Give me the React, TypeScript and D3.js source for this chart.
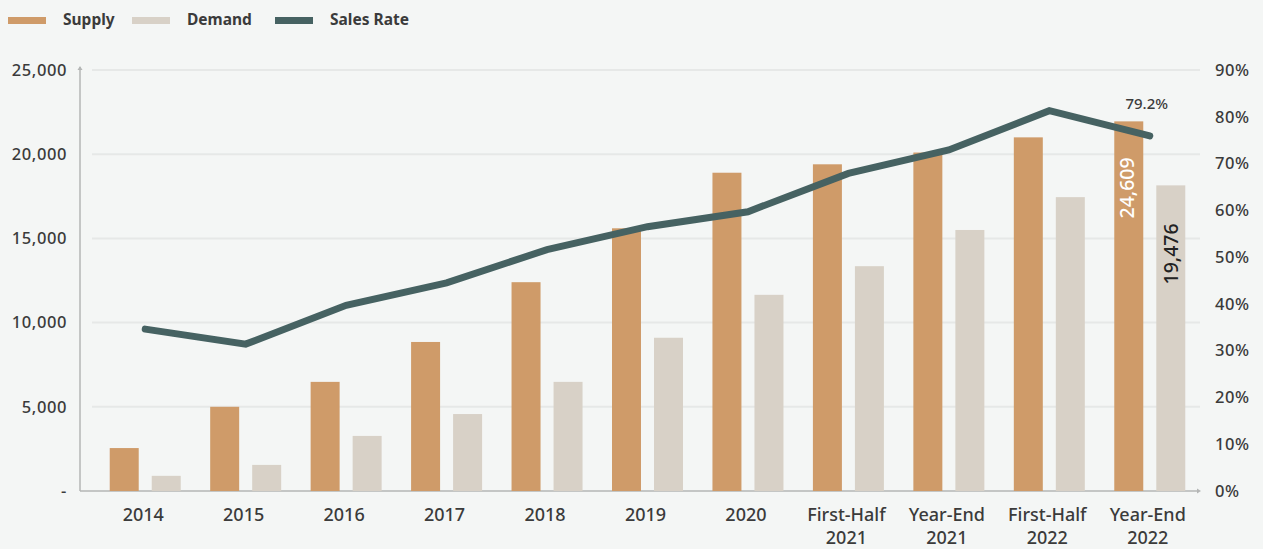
import React from 'react';
import * as d3 from 'd3';

const categories = ['2014', '2015', '2016', '2017', '2018', '2019', '2020', 'First-Half 2021', 'Year-End 2021', 'First-Half 2022', 'Year-End 2022'];
const supply = [2550, 5000, 6480, 8850, 12400, 15600, 18900, 19400, 20100, 21000, 21950];
const demand = [900, 1550, 3270, 4570, 6480, 9100, 11650, 13350, 15500, 17450, 18150];
const salesRate = [0.346, 0.314, 0.397, 0.445, 0.516, 0.565, 0.597, 0.679, 0.729, 0.813, 0.759];
const leftTicks = [0, 5000, 10000, 15000, 20000, 25000];
const rightTicks = [0, 0.1, 0.2, 0.3, 0.4, 0.5, 0.6, 0.7, 0.8, 0.9];
const seriesNames = ['Supply', 'Demand', 'Sales Rate'];
const supplyLastLabel = '24,609';
const demandLastLabel = '19,476';
const rateLastLabel = '79.2%';

const W = 1263;
const H = 549;
const BG = '#f4f6f5';
const SUPPLY = '#cf9b69';
const DEMAND = '#d8d1c7';
const LINE = '#466262';
const TEXT = '#3b3b3b';
const FONT = "'Noto Sans', sans-serif";

export default function App() {
  const top = 70;
  const bottom = 491;
  const x = d3.scaleBand<string>().domain(categories).range([95, 1200]).padding(0);
  const xs = d3.scaleBand<string>().domain(['supply', 'demand']).range([-35.5, 35.5]).paddingInner(0.31);
  const yL = d3.scaleLinear().domain([0, 25000]).range([bottom, top]);
  const yR = d3.scaleLinear().domain([0, 0.9]).range([bottom, top]);
  const cx = (c: string) => (x(c) as number) + x.bandwidth() / 2;

  const line = d3
    .line<number>()
    .x((_, i) => cx(categories[i]))
    .y((d) => yR(d));

  const fmt = d3.format(',');
  const last = categories.length - 1;
  const lastC = cx(categories[last]);
  const sx = lastC + (xs('supply') as number) + xs.bandwidth() / 2 - 2;
  const dx = lastC + (xs('demand') as number) + xs.bandwidth() / 2;

  const legendColors = [SUPPLY, DEMAND, LINE];
  const legendX = [8, 132, 275];

  return (
    <svg width={W} height={H} style={{ position: 'absolute', left: 0, top: 0, fontFamily: FONT }}>
      <rect x={0} y={0} width={W} height={H} fill={BG} />
      {/* legend */}
      {seriesNames.map((n, i) => (
        <g key={n}>
          <rect x={legendX[i]} y={17} width={38} height={7} fill={legendColors[i]} />
          <text x={legendX[i] + 55} y={25} fontSize={15.5} fontWeight={700} fill={TEXT}>
            {n}
          </text>
        </g>
      ))}
      {/* grid */}
      {leftTicks.filter((t) => t > 0).map((t) => (
        <line key={t} x1={92} x2={1200} y1={yL(t)} y2={yL(t)} stroke="#e6e8e7" strokeWidth={2} />
      ))}
      {/* axes */}
      <line x1={80} x2={80} y1={bottom} y2={67} stroke="#b4b6b5" strokeWidth={1.5} />
      <path d={`M77.5,70 L80,66 L82.5,70 Z`} fill="#b4b6b5" />
      <line x1={80} x2={1199} y1={bottom} y2={bottom} stroke="#b4b6b5" strokeWidth={1.5} />
      <path d={`M1197,488.5 L1201,491 L1197,493.5 Z`} fill="#b4b6b5" />
      {/* left ticks */}
      {leftTicks.map((t) => (
        <text key={t} x={67} y={yL(t)} dy="0.35em" textAnchor="end" fontSize={16.5} fontWeight={500} letterSpacing={0.6} fill={TEXT}>
          {t === 0 ? '-' : fmt(t)}
        </text>
      ))}
      {/* right ticks */}
      {rightTicks.map((t) => (
        <text key={t} x={1215} y={yR(t)} dy="0.35em" textAnchor="start" fontSize={16.5} fontWeight={500} letterSpacing={0.6} fill={TEXT}>
          {Math.round(t * 100) + '%'}
        </text>
      ))}
      {/* bars */}
      {categories.map((c, i) => (
        <g key={c}>
          <rect x={cx(c) + (xs('supply') as number)} y={yL(supply[i])} width={xs.bandwidth()} height={bottom - yL(supply[i])} fill={SUPPLY} />
          <rect x={cx(c) + (xs('demand') as number)} y={yL(demand[i])} width={xs.bandwidth()} height={bottom - yL(demand[i])} fill={DEMAND} />
        </g>
      ))}
      {/* line */}
      <path d={line(salesRate) as string} fill="none" stroke={LINE} strokeWidth={7} strokeLinejoin="miter" strokeLinecap="round" />
      {/* x labels */}
      {categories.map((c) => {
        const parts = c.split(' ');
        return (
          <text key={c} x={cx(c) - 2} y={521} textAnchor="middle" fontSize={18} fontWeight={500} fill={TEXT}>
            {parts.map((p, j) => (
              <tspan key={j} x={cx(c) - 2} dy={j === 0 ? 0 : 23}>
                {p}
              </tspan>
            ))}
          </text>
        );
      })}
      {/* annotations */}
      <text x={lastC - 3} y={109} textAnchor="middle" fontSize={15} fontWeight={500} fill={TEXT}>
        {rateLastLabel}
      </text>
      <text
        transform={`translate(${sx},${yL(supply[last]) + 36}) rotate(-90)`}
        textAnchor="end"
        dy="0.35em"
        fontSize={19.5}
        fontWeight={500}
        fill="#ffffff"
      >
        {supplyLastLabel}
      </text>
      <text
        transform={`translate(${dx},${yL(demand[last]) + 38}) rotate(-90)`}
        textAnchor="end"
        dy="0.35em"
        fontSize={19.5}
        fontWeight={500}
        fill="#222222"
      >
        {demandLastLabel}
      </text>
    </svg>
  );
}
